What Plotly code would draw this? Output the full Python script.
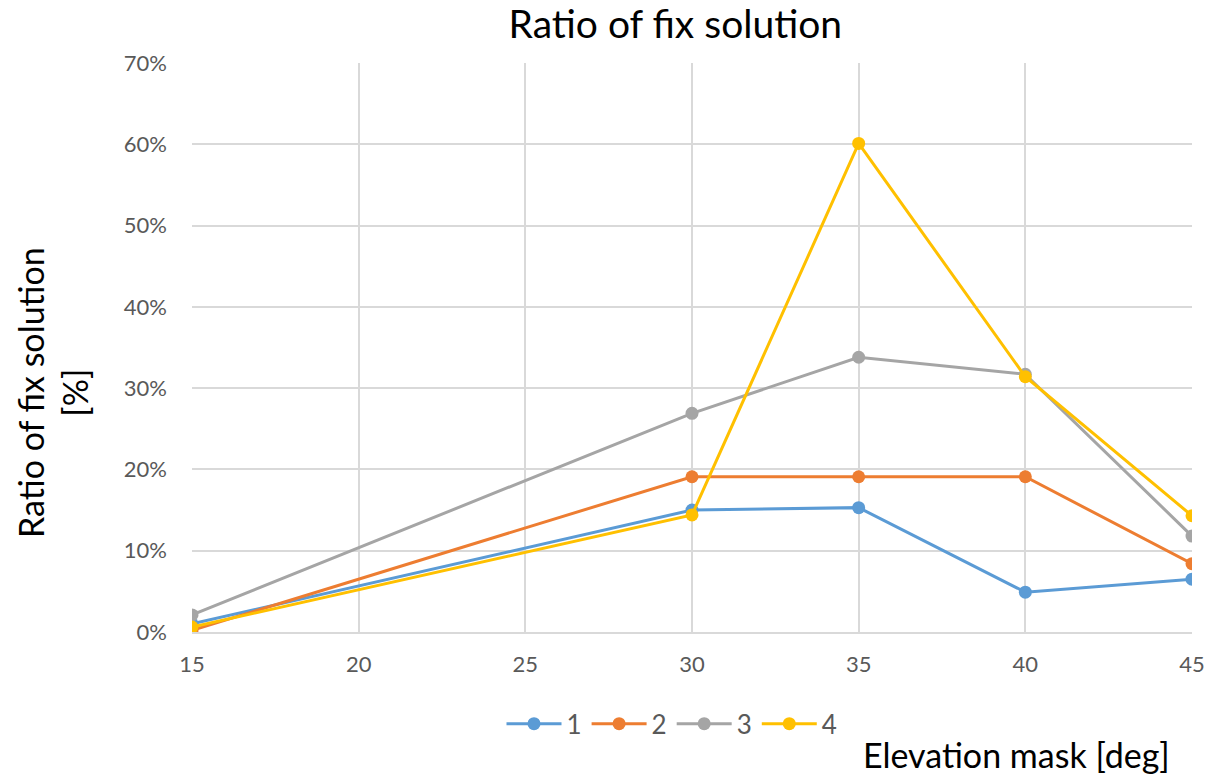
import plotly.graph_objects as go

x = [15, 30, 35, 40, 45]
names = ["1", "2", "3", "4"]
s1 = [1.0, 15.0, 15.3, 4.9, 6.5]
s2 = [0.2, 19.1, 19.1, 19.1, 8.4]
s3 = [2.1, 26.9, 33.8, 31.7, 11.8]
s4 = [0.6, 14.4, 60.1, 31.4, 14.3]
colors = ["#5B9BD5", "#ED7D31", "#A5A5A5", "#FFC000"]
yticks = [0, 10, 20, 30, 40, 50, 60, 70]
xticks = [15, 20, 25, 30, 35, 40, 45]

FONT = "Lato, 'Open Sans', sans-serif"
TXT = "#595959"

fig = go.Figure()
for n, ys, c in zip(names, [s1, s2, s3, s4], colors):
    fig.add_trace(go.Scatter(x=x, y=ys, name=n, mode="lines+markers",
                             line=dict(color=c, width=3),
                             marker=dict(color=c, size=13)))

fig.update_layout(
    width=1219, height=778,
    margin=dict(l=192, r=27, t=63, b=146),
    paper_bgcolor="white", plot_bgcolor="white",
    font=dict(family=FONT, color=TXT, size=22),
    title=dict(text="Ratio of fix solution", x=0.554, xanchor="center", y=0.969, yanchor="middle",
               font=dict(size=39, color="#000000", family=FONT)),
    xaxis=dict(range=[15, 45], tickvals=xticks, showgrid=True, gridcolor="#D9D9D9", gridwidth=1.5,
               zeroline=False, showline=True, linecolor="#D9D9D9", linewidth=1.5,
               ticks="", tickfont=dict(size=22, color=TXT)),
    yaxis=dict(range=[0, 70], tickvals=yticks, ticktext=[f"{v}%" for v in yticks],
               showgrid=True, gridcolor="#D9D9D9", gridwidth=1.5, zeroline=False,
               showline=False, ticks="", ticklen=0, tickfont=dict(size=22, color=TXT)),
    legend=dict(orientation="h", x=0.48, xanchor="center", y=-0.12, yanchor="top",
                font=dict(size=26, color=TXT), itemwidth=55),
    showlegend=True,
)
fig.update_xaxes(ticklabelstandoff=12)
fig.update_yaxes(ticklabelstandoff=24)

fig.add_annotation(text="Ratio of fix solution<br>[%]", xref="paper", yref="paper",
                   x=-0.14, y=0.42, textangle=-90, showarrow=False,
                   font=dict(size=34, color="#000000", family=FONT), xanchor="center", yanchor="middle")
fig.add_annotation(text="Elevation mask [deg]", xref="paper", yref="paper",
                   x=0.98, y=-0.216, xanchor="right", yanchor="middle", showarrow=False,
                   font=dict(size=34, color="#000000", family=FONT))

fig.write_html("out.html")
